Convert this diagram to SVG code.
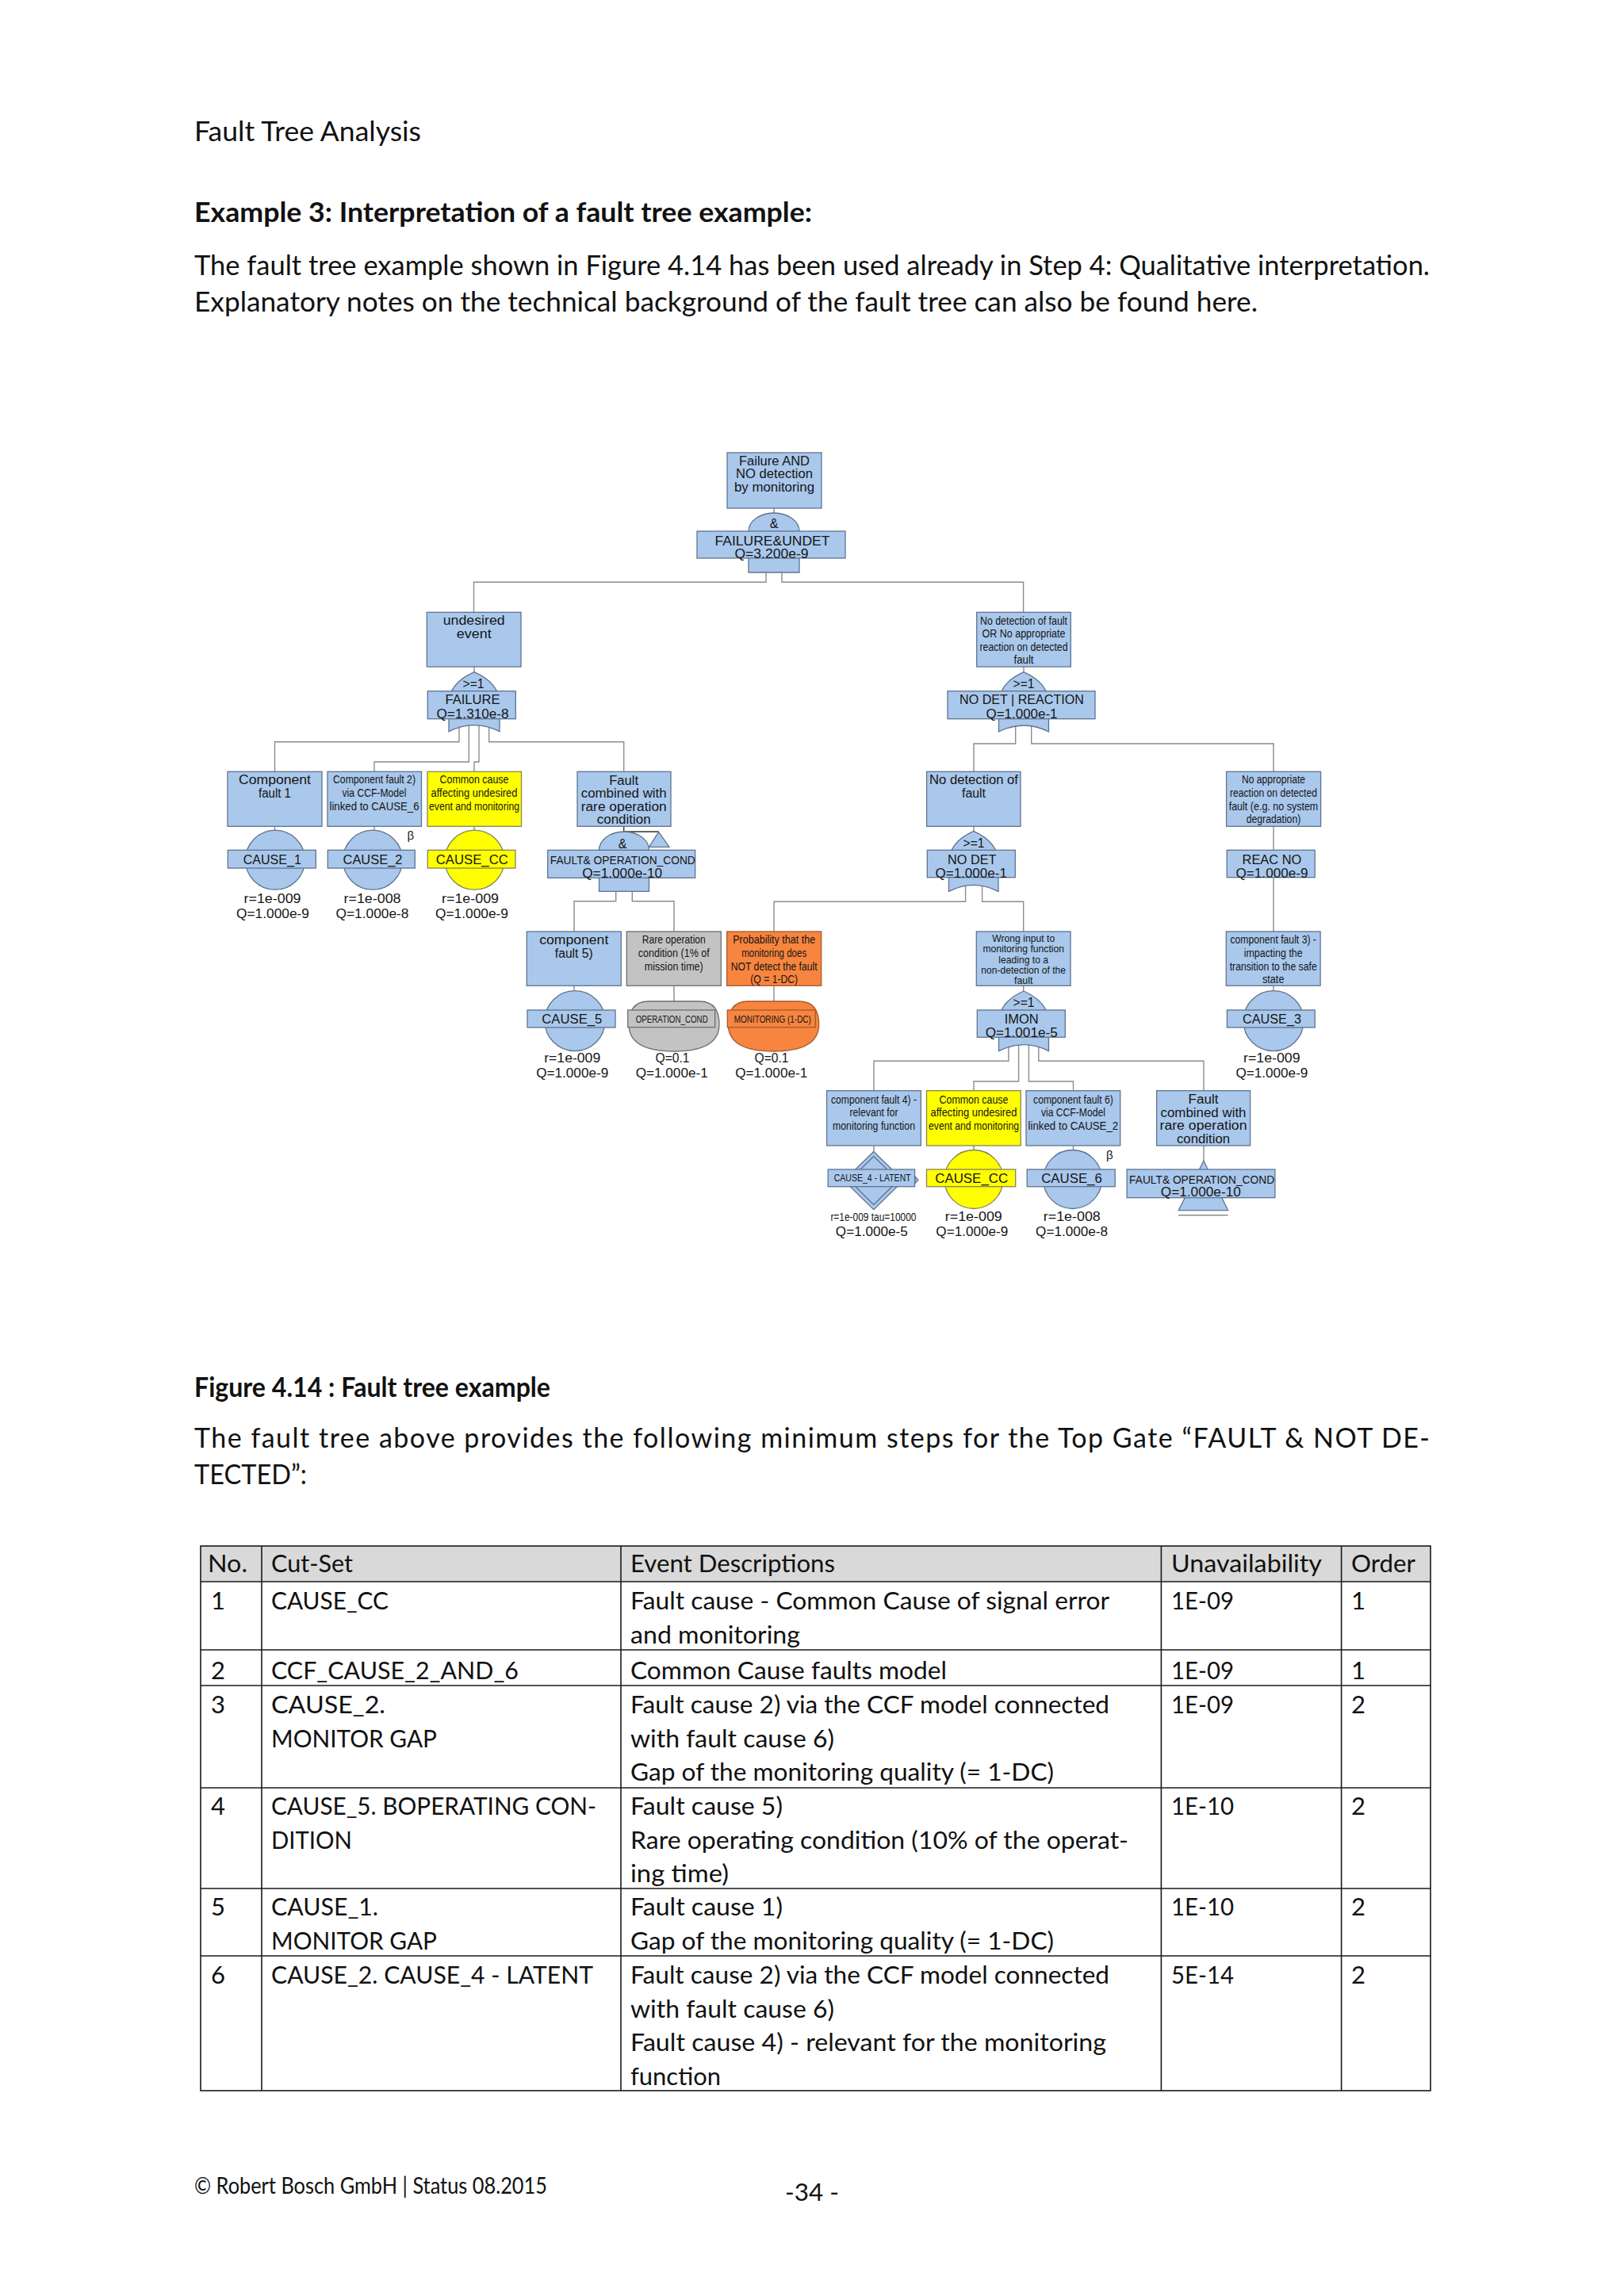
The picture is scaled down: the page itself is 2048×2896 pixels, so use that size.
<svg xmlns="http://www.w3.org/2000/svg" width="2048" height="2896" viewBox="0 0 2048 2896">
<style>
.pg{font-family:Lato,"Liberation Sans",sans-serif;font-size:34px;fill:#111}
.bd{font-weight:bold}
.tb{font-family:Lato,"Liberation Sans",sans-serif;font-size:31px;fill:#111}
.box{fill:#a9c8ec;stroke:#60738f;stroke-width:1.3}
.yel{fill:#ffff00;stroke:#85855a;stroke-width:1.3}
.gry{fill:#c3c3c3;stroke:#6e6e6e;stroke-width:1.3}
.org{fill:#f7853f;stroke:#a65a2c;stroke-width:1.3}
.conn{fill:none;stroke:#8c8c8c;stroke-width:1.4}
.dk{fill:none;stroke:#333;stroke-width:1.4}
.t{font-family:"Liberation Sans",Arial,sans-serif;font-size:16px;fill:#151515;text-anchor:middle}
.c{font-family:"Liberation Sans",Arial,sans-serif;font-size:14px;fill:#151515;text-anchor:middle}
.s{font-family:"Liberation Sans",Arial,sans-serif;font-size:13px;fill:#151515;text-anchor:middle}
.x{font-family:"Liberation Sans",Arial,sans-serif;font-size:12px;fill:#151515;text-anchor:middle}
.grid{fill:none;stroke:#1a1a1a;stroke-width:1.6}
</style>
<rect width="2048" height="2896" fill="#ffffff"/>

<g id="page-text">
<text class="pg" x="245" y="178" textLength="286" lengthAdjust="spacingAndGlyphs">Fault Tree Analysis</text>
<text class="pg bd" x="245" y="280" textLength="779" lengthAdjust="spacingAndGlyphs">Example 3: Interpretation of a fault tree example:</text>
<text class="pg" x="245" y="347" textLength="1558" lengthAdjust="spacingAndGlyphs">The fault tree example shown in Figure 4.14 has been used already in Step 4: Qualitative interpretation.</text>
<text class="pg" x="245" y="393" textLength="1341" lengthAdjust="spacingAndGlyphs">Explanatory notes on the technical background of the fault tree can also be found here.</text>
<text class="pg bd" x="245" y="1762" textLength="449" lengthAdjust="spacingAndGlyphs">Figure 4.14 : Fault tree example</text>
<text class="pg" x="245" y="1826" textLength="1558" lengthAdjust="spacing">The fault tree above provides the following minimum steps for the Top Gate “FAULT &amp; NOT DE-</text>
<text class="pg" x="245" y="1872" textLength="142" lengthAdjust="spacingAndGlyphs">TECTED”:</text>
<text class="pg" x="245" y="2767" style="font-size:28px" textLength="445" lengthAdjust="spacingAndGlyphs">© Robert Bosch GmbH | Status 08.2015</text>
<text class="pg" x="990" y="2776" style="font-size:31px" textLength="68" lengthAdjust="spacingAndGlyphs">-34 -</text>
</g>

<g id="connectors">
<polyline class="conn" points="976,641 976,647"/>
<polyline class="conn" points="966,715 966,734.3 597.5,734.3 597.5,772.3"/>
<polyline class="conn" points="986,715 986,734.3 1290.6,734.3 1290.6,772.3"/>
<polyline class="conn" points="598,841 598,848"/>
<polyline class="conn" points="579,912 579,935.7 346.5,935.7 346.5,973.3"/>
<polyline class="conn" points="591.3,912 591.3,961 472,961 472,973.3"/>
<polyline class="conn" points="604,912 604,961 598,961 598,973.3"/>
<polyline class="conn" points="616.7,912 616.7,935.7 786.7,935.7 786.7,973.3"/>
<polyline class="conn" points="346.5,1042.3 346.5,1048"/>
<polyline class="conn" points="472,1042.3 472,1048"/>
<polyline class="conn" points="598,1042.3 598,1048"/>
<polyline class="dk" points="786.7,1042.3 786.7,1049 830.7,1049"/>
<polyline class="conn" points="776.7,1115 776.7,1136.7 724,1136.7 724,1175"/>
<polyline class="conn" points="797.3,1115 797.3,1136.7 850,1136.7 850,1175"/>
<polyline class="conn" points="724,1243.3 724,1250"/>
<polyline class="conn" points="850,1243.3 850,1263"/>
<polyline class="conn" points="976,1243.3 976,1263"/>
<polyline class="conn" points="1291,841 1291,848"/>
<polyline class="conn" points="1280.7,915 1280.7,938 1228,938 1228,973.3"/>
<polyline class="conn" points="1300.7,915 1300.7,938 1606,938 1606,973.3"/>
<polyline class="conn" points="1228,1042.3 1228,1048.5"/>
<polyline class="conn" points="1606,1042.3 1606,1175"/>
<polyline class="conn" points="1217.6,1115 1217.6,1137.3 976,1137.3 976,1175"/>
<polyline class="conn" points="1238.6,1115 1238.6,1137.3 1290.7,1137.3 1290.7,1175"/>
<polyline class="conn" points="1290.7,1243.3 1290.7,1250"/>
<polyline class="conn" points="1606,1243.3 1606,1250"/>
<polyline class="conn" points="1271.9,1316 1271.9,1338.3 1102,1338.3 1102,1375.7"/>
<polyline class="conn" points="1284.6,1316 1284.6,1364 1228,1364 1228,1375.7"/>
<polyline class="conn" points="1297.4,1316 1297.4,1364 1353.5,1364 1353.5,1375.7"/>
<polyline class="conn" points="1309.8,1316 1309.8,1338.3 1518,1338.3 1518,1375.7"/>
<polyline class="conn" points="1102,1445 1102,1452.5"/>
<polyline class="conn" points="1228,1445 1228,1451"/>
<polyline class="conn" points="1353.5,1445 1353.5,1451"/>
<polyline class="conn" points="1518,1445 1518,1464.5"/>
</g>

<g id="top-event">
<rect class="box" x="917" y="571" width="119" height="70"/>
<text class="t" x="976.5" y="586.5" textLength="89" lengthAdjust="spacingAndGlyphs">Failure AND</text>
<text class="t" x="976.5" y="603" textLength="97" lengthAdjust="spacingAndGlyphs">NO detection</text>
<text class="t" x="976.5" y="619.5" textLength="101" lengthAdjust="spacingAndGlyphs">by monitoring</text>
<path class="box" d="M944,722 L944,670 A32,23 0 0 1 1008,670 L1008,722 Z"/>
<rect class="box" x="879" y="670" width="187" height="34"/>
<text class="t" x="976" y="666">&amp;</text>
<text class="t" x="974" y="688" textLength="145" lengthAdjust="spacingAndGlyphs">FAILURE&amp;UNDET</text>
<text class="t" x="973" y="704" textLength="93" lengthAdjust="spacingAndGlyphs">Q=3.200e-9</text>
</g>

<g id="undesired-event">
<rect class="box" x="538.3" y="772.3" width="118.7" height="68.7"/>
<text class="t" x="597.7" y="787.5" textLength="78" lengthAdjust="spacingAndGlyphs">undesired</text>
<text class="t" x="597.7" y="804.5" textLength="44" lengthAdjust="spacingAndGlyphs">event</text>
<path class="box" d="M566,922.7 L566,887.7 Q566,861.7 598,847.7 Q630,861.7 630,887.7 L630,922.7 Q598,906.7 566,922.7 Z"/>
<rect class="box" x="539.3" y="871.7" width="111" height="35"/>
<text class="t" x="597" y="867.5" textLength="27" lengthAdjust="spacingAndGlyphs">&gt;=1</text>
<text class="t" x="596" y="888.4" textLength="69" lengthAdjust="spacingAndGlyphs">FAILURE</text>
<text class="t" x="596" y="905.7" textLength="91" lengthAdjust="spacingAndGlyphs">Q=1.310e-8</text>
</g>

<g id="no-detection-or-reaction">
<rect class="box" x="1231.7" y="772.3" width="118.6" height="68.7"/>
<text class="c" x="1291" y="787.5" textLength="110" lengthAdjust="spacingAndGlyphs">No detection of fault</text>
<text class="c" x="1291" y="804.2" textLength="105" lengthAdjust="spacingAndGlyphs">OR No appropriate</text>
<text class="c" x="1291" y="821" textLength="111" lengthAdjust="spacingAndGlyphs">reaction on detected</text>
<text class="c" x="1291" y="837" textLength="25" lengthAdjust="spacingAndGlyphs">fault</text>
<path class="box" d="M1259.5,923 L1259.5,887.7 Q1259.5,861.7 1291,847.7 Q1322.5,861.7 1322.5,887.7 L1322.5,923 Q1291,907 1259.5,923 Z"/>
<rect class="box" x="1195" y="871.7" width="186" height="35"/>
<text class="t" x="1291" y="867.5" textLength="27" lengthAdjust="spacingAndGlyphs">&gt;=1</text>
<text class="t" x="1288.5" y="888.4" textLength="157" lengthAdjust="spacingAndGlyphs">NO DET | REACTION</text>
<text class="t" x="1288.5" y="905.7" textLength="90" lengthAdjust="spacingAndGlyphs">Q=1.000e-1</text>
</g>

<g id="cause-1">
<rect class="box" x="287" y="973.3" width="119" height="69"/>
<text class="t" x="346.5" y="988.8" textLength="91" lengthAdjust="spacingAndGlyphs">Component</text>
<text class="t" x="346.5" y="1006" textLength="41" lengthAdjust="spacingAndGlyphs">fault 1</text>
<circle class="box" cx="347" cy="1084.7" r="37.5"/>
<rect class="box" x="287.3" y="1072.3" width="111" height="22.7"/>
<text class="t" x="343.3" y="1089.7" textLength="73" lengthAdjust="spacingAndGlyphs">CAUSE_1</text>
<text class="t" x="343.5" y="1138.5" textLength="72" lengthAdjust="spacingAndGlyphs">r=1e-009</text>
<text class="t" x="344" y="1157.5" textLength="92" lengthAdjust="spacingAndGlyphs">Q=1.000e-9</text>
</g>

<g id="cause-2">
<rect class="box" x="413" y="973.3" width="118.5" height="69"/>
<text class="c" x="472" y="988.3" textLength="104" lengthAdjust="spacingAndGlyphs">Component fault 2)</text>
<text class="c" x="472" y="1005" textLength="81" lengthAdjust="spacingAndGlyphs">via CCF-Model</text>
<text class="c" x="472" y="1021.7" textLength="113" lengthAdjust="spacingAndGlyphs">linked to CAUSE_6</text>
<circle class="box" cx="470" cy="1084.7" r="37.5"/>
<rect class="box" x="413.3" y="1072.3" width="110" height="22.7"/>
<text class="t" x="470" y="1089.7" textLength="75" lengthAdjust="spacingAndGlyphs">CAUSE_2</text>
<text class="t" x="517.7" y="1059" style="font-size:15px">β</text>
<text class="t" x="469.5" y="1138.5" textLength="72" lengthAdjust="spacingAndGlyphs">r=1e-008</text>
<text class="t" x="469.5" y="1157.5" textLength="92" lengthAdjust="spacingAndGlyphs">Q=1.000e-8</text>
</g>

<g id="cause-cc-1">
<rect class="yel" x="539" y="973.3" width="118.5" height="69"/>
<text class="c" x="598" y="988.3" textLength="87" lengthAdjust="spacingAndGlyphs">Common cause</text>
<text class="c" x="598" y="1005" textLength="109" lengthAdjust="spacingAndGlyphs">affecting undesired</text>
<text class="c" x="598" y="1021.7" textLength="114" lengthAdjust="spacingAndGlyphs">event and monitoring</text>
<circle class="yel" cx="598.5" cy="1084.7" r="37.5"/>
<rect class="yel" x="539.3" y="1072.3" width="110.7" height="22.7"/>
<text class="t" x="595.3" y="1089.7" textLength="91" lengthAdjust="spacingAndGlyphs">CAUSE_CC</text>
<text class="t" x="593" y="1138.5" textLength="72" lengthAdjust="spacingAndGlyphs">r=1e-009</text>
<text class="t" x="595" y="1157.5" textLength="92" lengthAdjust="spacingAndGlyphs">Q=1.000e-9</text>
</g>

<g id="fault-operation-cond-1">
<rect class="box" x="728" y="973.3" width="118" height="69"/>
<text class="t" x="786.7" y="989.7" textLength="37" lengthAdjust="spacingAndGlyphs">Fault</text>
<text class="t" x="786.7" y="1005.7" textLength="108" lengthAdjust="spacingAndGlyphs">combined with</text>
<text class="t" x="786.7" y="1022.7" textLength="108" lengthAdjust="spacingAndGlyphs">rare operation</text>
<text class="t" x="786.7" y="1038.5" textLength="68" lengthAdjust="spacingAndGlyphs">condition</text>
<path class="box" d="M755.5,1124.3 L755.5,1072.3 A31.5,23.3 0 0 1 818.5,1072.3 L818.5,1124.3 Z"/>
<path class="box" d="M830.7,1049.3 L844,1068.3 L818.3,1068.3 Z"/>
<rect class="box" x="690.7" y="1072.3" width="186" height="35"/>
<text class="t" x="785" y="1069.5">&amp;</text>
<text class="c" x="785.3" y="1089.5" textLength="183" lengthAdjust="spacingAndGlyphs">FAULT&amp; OPERATION_COND</text>
<text class="t" x="784.7" y="1106.5" textLength="101" lengthAdjust="spacingAndGlyphs">Q=1.000e-10</text>
</g>

<g id="no-detection">
<rect class="box" x="1168.6" y="973.3" width="118.4" height="69"/>
<text class="t" x="1228" y="988.8" textLength="112" lengthAdjust="spacingAndGlyphs">No detection of</text>
<text class="t" x="1228" y="1005.7" textLength="30" lengthAdjust="spacingAndGlyphs">fault</text>
<path class="box" d="M1196.5,1124.3 L1196.5,1088.3 Q1196.5,1062.3 1227.8,1048.3 Q1259,1062.3 1259,1088.3 L1259,1124.3 Q1227.8,1108.3 1196.5,1124.3 Z"/>
<rect class="box" x="1169.3" y="1072.3" width="111" height="34.4"/>
<text class="t" x="1228" y="1068.5" textLength="27" lengthAdjust="spacingAndGlyphs">&gt;=1</text>
<text class="t" x="1225.7" y="1089.7" textLength="61.5" lengthAdjust="spacingAndGlyphs">NO DET</text>
<text class="t" x="1224.7" y="1106.5" textLength="90.6" lengthAdjust="spacingAndGlyphs">Q=1.000e-1</text>
</g>

<g id="reac-no">
<rect class="box" x="1546.6" y="973.3" width="119" height="69"/>
<text class="c" x="1606" y="988.3" textLength="80" lengthAdjust="spacingAndGlyphs">No appropriate</text>
<text class="c" x="1606" y="1005" textLength="110" lengthAdjust="spacingAndGlyphs">reaction on detected</text>
<text class="c" x="1606" y="1021.7" textLength="112.6" lengthAdjust="spacingAndGlyphs">fault (e.g. no system</text>
<text class="c" x="1606" y="1038.3" textLength="68.6" lengthAdjust="spacingAndGlyphs">degradation)</text>
<rect class="box" x="1547.2" y="1072.3" width="111" height="34.4"/>
<text class="t" x="1603.9" y="1089.7" textLength="74.7" lengthAdjust="spacingAndGlyphs">REAC NO</text>
<text class="t" x="1604" y="1106.5" textLength="91" lengthAdjust="spacingAndGlyphs">Q=1.000e-9</text>
</g>

<g id="cause-5">
<rect class="box" x="664.3" y="1175" width="119" height="68.3"/>
<text class="t" x="723.8" y="1190.7" textLength="87" lengthAdjust="spacingAndGlyphs">component</text>
<text class="t" x="723.8" y="1207.7" textLength="48" lengthAdjust="spacingAndGlyphs">fault 5)</text>
<circle class="box" cx="725" cy="1287.7" r="38"/>
<rect class="box" x="665" y="1274" width="111" height="22"/>
<text class="t" x="721.3" y="1290.7" textLength="76" lengthAdjust="spacingAndGlyphs">CAUSE_5</text>
<text class="t" x="721.7" y="1339.7" textLength="71" lengthAdjust="spacingAndGlyphs">r=1e-009</text>
<text class="t" x="721.7" y="1358.5" textLength="91" lengthAdjust="spacingAndGlyphs">Q=1.000e-9</text>
</g>

<g id="operation-cond">
<rect class="gry" x="790.3" y="1175" width="119" height="68.3"/>
<text class="c" x="849.8" y="1190.3" textLength="80" lengthAdjust="spacingAndGlyphs">Rare operation</text>
<text class="c" x="849.8" y="1207" textLength="90" lengthAdjust="spacingAndGlyphs">condition (1% of</text>
<text class="c" x="849.8" y="1223.5" textLength="74" lengthAdjust="spacingAndGlyphs">mission time)</text>
<path class="gry" d="M818,1263 L882,1263 Q907,1263 907,1292 Q907,1326 850,1326 Q793,1326 793,1292 Q793,1263 818,1263 Z"/>
<rect class="gry" x="791.7" y="1274" width="110" height="21.7"/>
<text class="x" x="847.2" y="1289.5" textLength="91" lengthAdjust="spacingAndGlyphs">OPERATION_COND</text>
<text class="t" x="848" y="1339.7" textLength="43" lengthAdjust="spacingAndGlyphs">Q=0.1</text>
<text class="t" x="847.2" y="1358.5" textLength="91" lengthAdjust="spacingAndGlyphs">Q=1.000e-1</text>
</g>

<g id="monitoring-1-dc">
<rect class="org" x="916.7" y="1175" width="119" height="68.3"/>
<text class="c" x="976.2" y="1190.3" textLength="104" lengthAdjust="spacingAndGlyphs">Probability that the</text>
<text class="c" x="976.2" y="1207" textLength="82" lengthAdjust="spacingAndGlyphs">monitoring does</text>
<text class="c" x="976.2" y="1223.5" textLength="109" lengthAdjust="spacingAndGlyphs">NOT detect the fault</text>
<text class="c" x="976.2" y="1240" textLength="60" lengthAdjust="spacingAndGlyphs">(Q = 1-DC)</text>
<path class="org" d="M943.5,1263 L1007.5,1263 Q1032.7,1263 1032.7,1292 Q1032.7,1326 975.5,1326 Q918.3,1326 918.3,1292 Q918.3,1263 943.5,1263 Z"/>
<rect class="org" x="917.3" y="1274" width="111" height="21.7"/>
<text class="x" x="974.3" y="1289.5" textLength="97" lengthAdjust="spacingAndGlyphs">MONITORING (1-DC)</text>
<text class="t" x="973" y="1339.7" textLength="43" lengthAdjust="spacingAndGlyphs">Q=0.1</text>
<text class="t" x="972.7" y="1358.5" textLength="91" lengthAdjust="spacingAndGlyphs">Q=1.000e-1</text>
</g>

<g id="imon">
<rect class="box" x="1231.3" y="1175" width="118.7" height="68.3"/>
<text class="s" x="1290.7" y="1188" textLength="79" lengthAdjust="spacingAndGlyphs">Wrong input to</text>
<text class="s" x="1290.7" y="1201.3" textLength="102.6" lengthAdjust="spacingAndGlyphs">monitoring function</text>
<text class="s" x="1290.7" y="1214.7" textLength="62.7" lengthAdjust="spacingAndGlyphs">leading to a</text>
<text class="s" x="1290.7" y="1228" textLength="106.7" lengthAdjust="spacingAndGlyphs">non-detection of the</text>
<text class="s" x="1290.7" y="1241.3" textLength="23.4" lengthAdjust="spacingAndGlyphs">fault</text>
<path class="box" d="M1259.5,1325.7 L1259.5,1290 Q1259.5,1264 1291,1250 Q1322.5,1264 1322.5,1290 L1322.5,1325.7 Q1291,1309.7 1259.5,1325.7 Z"/>
<rect class="box" x="1232.3" y="1274" width="111" height="34.3"/>
<text class="t" x="1291" y="1269.7" textLength="27" lengthAdjust="spacingAndGlyphs">&gt;=1</text>
<text class="t" x="1288.2" y="1290.7" textLength="43" lengthAdjust="spacingAndGlyphs">IMON</text>
<text class="t" x="1288.2" y="1307.7" textLength="91" lengthAdjust="spacingAndGlyphs">Q=1.001e-5</text>
</g>

<g id="cause-3">
<rect class="box" x="1546.3" y="1175" width="118.8" height="68.3"/>
<text class="c" x="1605.7" y="1190.3" textLength="108.5" lengthAdjust="spacingAndGlyphs">component fault 3) -</text>
<text class="c" x="1605.7" y="1207" textLength="74" lengthAdjust="spacingAndGlyphs">impacting the</text>
<text class="c" x="1605.7" y="1223.5" textLength="110" lengthAdjust="spacingAndGlyphs">transition to the safe</text>
<text class="c" x="1605.7" y="1240" textLength="27.5" lengthAdjust="spacingAndGlyphs">state</text>
<circle class="box" cx="1606" cy="1287.7" r="38"/>
<rect class="box" x="1547.4" y="1274" width="110.8" height="22"/>
<text class="t" x="1604" y="1290.7" textLength="74" lengthAdjust="spacingAndGlyphs">CAUSE_3</text>
<text class="t" x="1603.8" y="1339.7" textLength="71.6" lengthAdjust="spacingAndGlyphs">r=1e-009</text>
<text class="t" x="1603.9" y="1358.5" textLength="91" lengthAdjust="spacingAndGlyphs">Q=1.000e-9</text>
</g>

<g id="cause-4-latent">
<rect class="box" x="1042.6" y="1375.7" width="118.7" height="69.3"/>
<text class="c" x="1102" y="1391.7" textLength="108" lengthAdjust="spacingAndGlyphs">component fault 4) -</text>
<text class="c" x="1102" y="1408.2" textLength="61" lengthAdjust="spacingAndGlyphs">relevant for</text>
<text class="c" x="1102" y="1424.5" textLength="104" lengthAdjust="spacingAndGlyphs">monitoring function</text>
<path class="box" d="M1101.8,1452.5 L1139.2,1489 L1101.8,1525.7 L1064.4,1489 Z"/>
<path class="box" d="M1101.8,1458.5 L1132.8,1489 L1101.8,1519.5 L1070.8,1489 Z"/>
<rect class="box" x="1044.2" y="1475" width="109.4" height="21.7"/>
<path class="box" d="M1154,1484 L1158,1488.3 L1154,1492.6 Z"/>
<text class="s" x="1100.2" y="1490.3" textLength="97" lengthAdjust="spacingAndGlyphs">CAUSE_4 - LATENT</text>
<text class="c" x="1101.4" y="1539.5" textLength="108" lengthAdjust="spacingAndGlyphs">r=1e-009 tau=10000</text>
<text class="t" x="1099.3" y="1558.8" textLength="91" lengthAdjust="spacingAndGlyphs">Q=1.000e-5</text>
</g>

<g id="cause-cc-2">
<rect class="yel" x="1168.5" y="1375.7" width="118.7" height="69.3"/>
<text class="c" x="1228" y="1391.7" textLength="87" lengthAdjust="spacingAndGlyphs">Common cause</text>
<text class="c" x="1228" y="1408.2" textLength="109" lengthAdjust="spacingAndGlyphs">affecting undesired</text>
<text class="c" x="1228" y="1424.5" textLength="114" lengthAdjust="spacingAndGlyphs">event and monitoring</text>
<circle class="yel" cx="1228" cy="1487.5" r="37"/>
<rect class="yel" x="1168.5" y="1475" width="112.2" height="21.7"/>
<text class="t" x="1225.2" y="1491.5" textLength="92" lengthAdjust="spacingAndGlyphs">CAUSE_CC</text>
<text class="t" x="1227.8" y="1539.8" textLength="72" lengthAdjust="spacingAndGlyphs">r=1e-009</text>
<text class="t" x="1225.8" y="1558.8" textLength="91" lengthAdjust="spacingAndGlyphs">Q=1.000e-9</text>
</g>

<g id="cause-6">
<rect class="box" x="1294" y="1375.7" width="118.7" height="69.3"/>
<text class="c" x="1353.4" y="1391.7" textLength="100.6" lengthAdjust="spacingAndGlyphs">component fault 6)</text>
<text class="c" x="1353.4" y="1408.2" textLength="81" lengthAdjust="spacingAndGlyphs">via CCF-Model</text>
<text class="c" x="1353.4" y="1424.5" textLength="113.7" lengthAdjust="spacingAndGlyphs">linked to CAUSE_2</text>
<circle class="box" cx="1352.6" cy="1487.5" r="37"/>
<rect class="box" x="1295.2" y="1475" width="111" height="21.7"/>
<text class="t" x="1351.5" y="1491.5" textLength="76.5" lengthAdjust="spacingAndGlyphs">CAUSE_6</text>
<text class="t" x="1399.3" y="1462" style="font-size:15px">β</text>
<text class="t" x="1351.8" y="1539.8" textLength="72" lengthAdjust="spacingAndGlyphs">r=1e-008</text>
<text class="t" x="1351.6" y="1558.8" textLength="91" lengthAdjust="spacingAndGlyphs">Q=1.000e-8</text>
</g>

<g id="fault-operation-cond-2">
<rect class="box" x="1458.6" y="1375.7" width="118" height="69.3"/>
<text class="t" x="1517.5" y="1392.2" textLength="38" lengthAdjust="spacingAndGlyphs">Fault</text>
<text class="t" x="1517.5" y="1408.7" textLength="108" lengthAdjust="spacingAndGlyphs">combined with</text>
<text class="t" x="1517.5" y="1425.2" textLength="110" lengthAdjust="spacingAndGlyphs">rare operation</text>
<text class="t" x="1517.5" y="1441.7" textLength="67" lengthAdjust="spacingAndGlyphs">condition</text>
<path class="box" d="M1518,1464.3 L1548.6,1526.7 L1486.2,1526.7 Z"/>
<line x1="1486.2" y1="1532.7" x2="1548.6" y2="1532.7" stroke="#8c8c8c" stroke-width="1.4"/>
<rect class="box" x="1421.1" y="1475" width="186.8" height="35.7"/>
<text class="c" x="1515.6" y="1492.5" textLength="183" lengthAdjust="spacingAndGlyphs">FAULT&amp; OPERATION_COND</text>
<text class="t" x="1514.3" y="1509.3" textLength="101" lengthAdjust="spacingAndGlyphs">Q=1.000e-10</text>
</g>

<g id="cut-set-table">
<rect x="253" y="1950" width="1551" height="45" fill="#d9d9d9"/>
<rect class="grid" x="253" y="1950" width="1551" height="687"/>
<line class="grid" x1="253" y1="1995" x2="1804" y2="1995"/>
<line class="grid" x1="253" y1="2081" x2="1804" y2="2081"/>
<line class="grid" x1="253" y1="2126" x2="1804" y2="2126"/>
<line class="grid" x1="253" y1="2255" x2="1804" y2="2255"/>
<line class="grid" x1="253" y1="2382" x2="1804" y2="2382"/>
<line class="grid" x1="253" y1="2467" x2="1804" y2="2467"/>
<line class="grid" x1="330" y1="1950" x2="330" y2="2637"/>
<line class="grid" x1="783" y1="1950" x2="783" y2="2637"/>
<line class="grid" x1="1464.4" y1="1950" x2="1464.4" y2="2637"/>
<line class="grid" x1="1691.6" y1="1950" x2="1691.6" y2="2637"/>

<text class="tb" x="262" y="1983" textLength="50" lengthAdjust="spacingAndGlyphs">No.</text>
<text class="tb" x="342" y="1983" textLength="103" lengthAdjust="spacingAndGlyphs">Cut-Set</text>
<text class="tb" x="795" y="1983" textLength="258" lengthAdjust="spacingAndGlyphs">Event Descriptions</text>
<text class="tb" x="1477" y="1983" textLength="190" lengthAdjust="spacingAndGlyphs">Unavailability</text>
<text class="tb" x="1704" y="1983" textLength="81" lengthAdjust="spacingAndGlyphs">Order</text>

<text class="tb" x="266" y="2030">1</text>
<text class="tb" x="342" y="2030" textLength="148" lengthAdjust="spacingAndGlyphs">CAUSE_CC</text>
<text class="tb" x="795" y="2030" textLength="604" lengthAdjust="spacingAndGlyphs">Fault cause - Common Cause of signal error</text>
<text class="tb" x="795" y="2072.5" textLength="214" lengthAdjust="spacingAndGlyphs">and monitoring</text>
<text class="tb" x="1477" y="2030" textLength="79" lengthAdjust="spacingAndGlyphs">1E-09</text>
<text class="tb" x="1704" y="2030">1</text>

<text class="tb" x="266" y="2118">2</text>
<text class="tb" x="342" y="2118" textLength="312" lengthAdjust="spacingAndGlyphs">CCF_CAUSE_2_AND_6</text>
<text class="tb" x="795" y="2118" textLength="399" lengthAdjust="spacingAndGlyphs">Common Cause faults model</text>
<text class="tb" x="1477" y="2118" textLength="79" lengthAdjust="spacingAndGlyphs">1E-09</text>
<text class="tb" x="1704" y="2118">1</text>

<text class="tb" x="266" y="2161">3</text>
<text class="tb" x="342" y="2161" textLength="144" lengthAdjust="spacingAndGlyphs">CAUSE_2.</text>
<text class="tb" x="342" y="2203.5" textLength="209" lengthAdjust="spacingAndGlyphs">MONITOR GAP</text>
<text class="tb" x="795" y="2161" textLength="604" lengthAdjust="spacingAndGlyphs">Fault cause 2) via the CCF model connected</text>
<text class="tb" x="795" y="2203.5" textLength="257" lengthAdjust="spacingAndGlyphs">with fault cause 6)</text>
<text class="tb" x="795" y="2246" textLength="534" lengthAdjust="spacingAndGlyphs">Gap of the monitoring quality (= 1-DC)</text>
<text class="tb" x="1477" y="2161" textLength="79" lengthAdjust="spacingAndGlyphs">1E-09</text>
<text class="tb" x="1704" y="2161">2</text>

<text class="tb" x="266" y="2289">4</text>
<text class="tb" x="342" y="2289" textLength="410" lengthAdjust="spacingAndGlyphs">CAUSE_5. BOPERATING CON-</text>
<text class="tb" x="342" y="2331.5" textLength="102" lengthAdjust="spacingAndGlyphs">DITION</text>
<text class="tb" x="795" y="2289" textLength="192" lengthAdjust="spacingAndGlyphs">Fault cause 5)</text>
<text class="tb" x="795" y="2331.5" textLength="628" lengthAdjust="spacingAndGlyphs">Rare operating condition (10% of the operat-</text>
<text class="tb" x="795" y="2374" textLength="124" lengthAdjust="spacingAndGlyphs">ing time)</text>
<text class="tb" x="1477" y="2289" textLength="79" lengthAdjust="spacingAndGlyphs">1E-10</text>
<text class="tb" x="1704" y="2289">2</text>

<text class="tb" x="266" y="2416">5</text>
<text class="tb" x="342" y="2416" textLength="135" lengthAdjust="spacingAndGlyphs">CAUSE_1.</text>
<text class="tb" x="342" y="2458.5" textLength="209" lengthAdjust="spacingAndGlyphs">MONITOR GAP</text>
<text class="tb" x="795" y="2416" textLength="192" lengthAdjust="spacingAndGlyphs">Fault cause 1)</text>
<text class="tb" x="795" y="2458.5" textLength="534" lengthAdjust="spacingAndGlyphs">Gap of the monitoring quality (= 1-DC)</text>
<text class="tb" x="1477" y="2416" textLength="79" lengthAdjust="spacingAndGlyphs">1E-10</text>
<text class="tb" x="1704" y="2416">2</text>

<text class="tb" x="266" y="2502">6</text>
<text class="tb" x="342" y="2502" textLength="406" lengthAdjust="spacingAndGlyphs">CAUSE_2. CAUSE_4 - LATENT</text>
<text class="tb" x="795" y="2502" textLength="604" lengthAdjust="spacingAndGlyphs">Fault cause 2) via the CCF model connected</text>
<text class="tb" x="795" y="2544.5" textLength="257" lengthAdjust="spacingAndGlyphs">with fault cause 6)</text>
<text class="tb" x="795" y="2587" textLength="600" lengthAdjust="spacingAndGlyphs">Fault cause 4) - relevant for the monitoring</text>
<text class="tb" x="795" y="2629.5" textLength="114" lengthAdjust="spacingAndGlyphs">function</text>
<text class="tb" x="1477" y="2502" textLength="79" lengthAdjust="spacingAndGlyphs">5E-14</text>
<text class="tb" x="1704" y="2502">2</text>
</g>
</svg>
